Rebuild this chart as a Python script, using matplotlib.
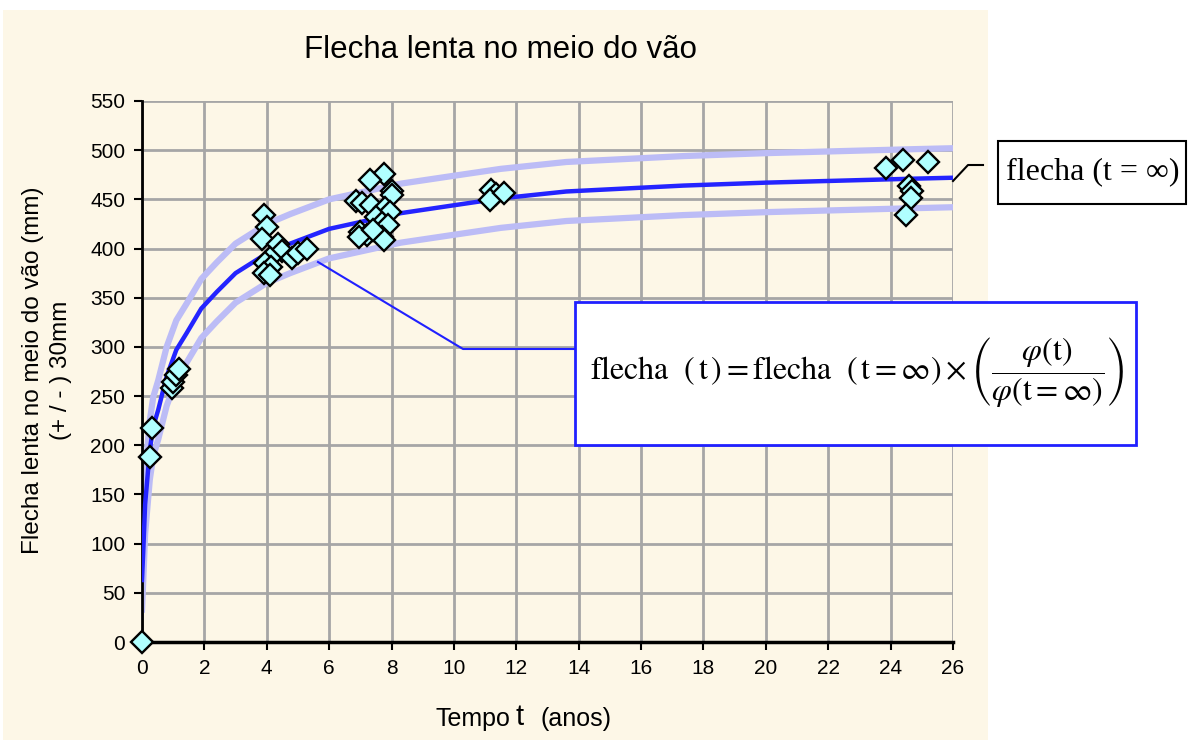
import matplotlib.pyplot as plt
from matplotlib.patches import Rectangle
from matplotlib.lines import Line2D

plt.rcParams['font.family'] = ['Liberation Sans', 'DejaVu Sans']
plt.rcParams['mathtext.fontset'] = 'stix'

# curva media (flecha lenta) e faixa +/- 30 mm
t_curve = [0, 0.05, 0.1, 0.25, 0.36, 0.52, 0.79, 1.1, 1.43, 1.9, 2.4, 3.0, 4.0,
           4.75, 6.0, 8.3, 10, 11.5, 13.6, 17.35, 20, 24.7, 26]
flecha_curve = [63, 100, 140, 195, 219, 236, 270, 297, 314, 339, 356, 375, 395,
                405, 420, 436, 444, 451, 458, 464, 467, 471, 472]
margem = 30

# medicoes
t_obs = [0, 0.26, 0.33, 0.95, 1.0, 1.1, 1.2,
         3.9, 4.0, 3.85, 4.35, 4.5, 4.1, 3.95, 4.15, 3.9, 4.1, 4.8, 5.0, 5.3,
         7.75, 7.3, 8.0, 8.0, 6.85, 7.05, 7.35, 7.8, 7.95, 7.5, 7.7, 7.9, 7.0, 7.2,
         6.95, 7.7, 7.75, 7.4,
         11.2, 11.35, 11.15, 11.6,
         23.85, 24.4, 25.2, 24.6, 24.7, 24.65, 24.5]
flecha_obs = [0, 188, 218, 258, 264, 271, 278,
              434, 422, 410, 405, 397, 390, 385, 381, 375, 373, 390, 395, 400,
              476, 470, 459, 454, 448, 446, 444, 441, 437, 432, 426, 424, 417, 414,
              412, 412, 409, 419,
              460, 455, 449, 456,
              482, 490, 488, 464, 459, 451, 434]

W, H = 1195, 740
fig = plt.figure(figsize=(W / 100, H / 100), dpi=100)
fig.patch.set_facecolor('white')
creme = '#FDF7E7'


def fx(px):
    return px / W


def fy(py):
    return 1 - py / H


fig.add_artist(Rectangle((fx(3), 0), fx(988) - fx(3), fy(10), transform=fig.transFigure,
                         facecolor=creme, edgecolor='none', zorder=0))

ax = fig.add_axes([fx(142), fy(642), fx(953) - fx(142), fy(101) - fy(642)])
ax.set_facecolor(creme)

upper = [v + margem for v in flecha_curve]
lower = [v - margem for v in flecha_curve]
ax.plot(t_curve, upper, color='#bcbcf6', lw=4.5, zorder=2)
ax.plot(t_curve, lower, color='#bcbcf6', lw=4.5, zorder=2)
ax.plot(t_curve, flecha_curve, color='#2424ff', lw=3.2, zorder=3)
ax.plot(t_obs, flecha_obs, 'D', ms=11.5, mfc='#b0ffff', mec='black', mew=1.7,
        linestyle='none', zorder=4, clip_on=False)

ax.set_xlim(0, 26)
ax.set_ylim(0, 550)
ax.set_xticks(range(0, 27, 2))
ax.set_yticks(range(0, 551, 50))
ax.grid(True, color='#a6a6a6', lw=2)
ax.set_axisbelow(True)
for s in ['top', 'right']:
    ax.spines[s].set_visible(False)
ax.spines['left'].set_linewidth(2)
ax.spines['bottom'].set_linewidth(2.5)
ax.tick_params(direction='out', length=6, width=1.5, labelsize=15, pad=6)

fig.text(fx(500), fy(50), 'Flecha lenta no meio do vão', fontsize=22.5,
         ha='center', va='center')
fig.text(fx(47), fy(370), 'Flecha lenta no meio do vão (mm)\n(+ / - ) 30mm',
         rotation=90, ha='center', va='center', multialignment='center',
         fontsize=17.5, linespacing=1.3)
fig.text(fx(510), fy(719), 'Tempo', fontsize=18, ha='right', va='center')
fig.text(fx(516), fy(717), 't', fontsize=21, ha='left', va='center')
fig.text(fx(540), fy(719), '(anos)', fontsize=18, ha='left', va='center')

# caixa flecha (t = inf)
fig.add_artist(Line2D([fx(953), fx(968), fx(983)], [fy(181), fy(165), fy(165)],
                      color='black', lw=1.5, transform=fig.transFigure, zorder=5))
fig.add_artist(Rectangle((fx(998), fy(204)), fx(1186) - fx(998), fy(141) - fy(204),
                         transform=fig.transFigure, facecolor='white',
                         edgecolor='black', lw=1.5, zorder=5))
fig.text(fx(1093), fy(172), 'flecha (t = ∞)', family='Liberation Serif',
         fontsize=23, ha='center', va='center', zorder=6)

# caixa da formula
fig.add_artist(Line2D([fx(318), fx(463), fx(575)], [fy(262), fy(349), fy(349)],
                      color='#2020ff', lw=1.5, transform=fig.transFigure, zorder=5))
fig.add_artist(Rectangle((fx(575), fy(445)), fx(1136) - fx(575), fy(302) - fy(445),
                         transform=fig.transFigure, facecolor='white',
                         edgecolor='#2020ff', lw=2, zorder=5))
formula = (r'$\mathrm{flecha}\ \ (\,\mathrm{t}\,) = \mathrm{flecha}\ \ (\,\mathrm{t} = \infty)'
           r'\times\left(\dfrac{\varphi(\mathrm{t})}{\varphi(\mathrm{t} = \infty)}\right)$')
fig.text(fx(857), fy(372), formula, fontsize=23, ha='center', va='center', zorder=6)

fig.savefig('out.png', dpi=100)
